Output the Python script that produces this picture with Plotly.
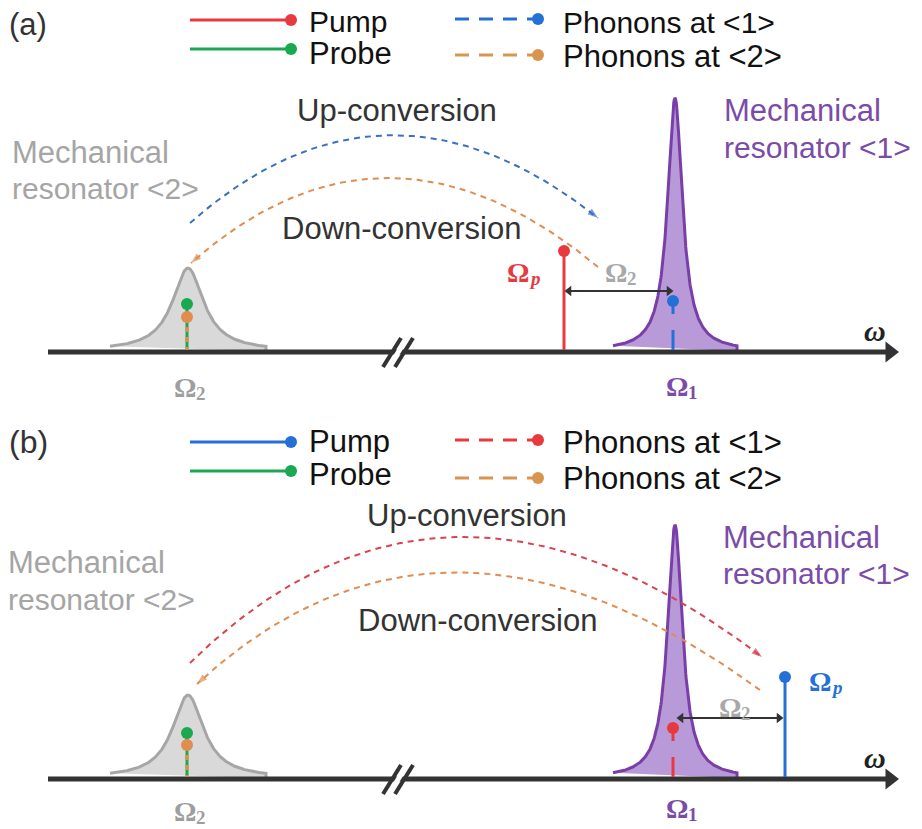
import numpy as np
import plotly.graph_objects as go

# ---- diagram values (pixel-like units, y grows downward) ----
# index 0 -> panel (a), index 1 -> panel (b)
panel_tags = ["(a)", "(b)"]
axis_y = [352, 779]
axis_x = [48, 898]

res2_x = [188, 188]          # mechanical resonator <2>
res2_peak = [268, 695]
res2_gamma = 19
res2_half = 78

res1_x = [675, 675]          # mechanical resonator <1>
res1_peak = [98, 525]
res1_gamma = 9
res1_half = 62

pump_x = [564, 785]
pump_top = [251, 677]
phonon1_x = [673, 673]
phonon1_top = [301, 728]
probe_top = [304, 733]
phonon2_dot = [317, 745]

sep_y = [291, 718]           # Omega_2 spacing arrow
sep_x0 = [565, 677]
sep_x1 = [673, 783]

# arcs: start, control, end
up_start = [(190, 223), (190, 663)]
up_ctrl = [(386, 50), (444, 414)]
up_end = [(598, 218), (762, 657)]
down_start = [(598, 267), (760, 690)]
down_ctrl = [(386, 91), (442, 458)]
down_end = [(191, 263), (197, 684)]

legend_solid_y = [[20, 49], [442, 471]]
legend_dash_y = [[19, 55], [440, 478]]
legend_text_y = [[21, 53, 22, 56], [441, 474, 442, 478]]
tag_y = [24, 442]

up_text = [(397, 110), (467, 515)]
down_text = [(402, 228), (478, 620)]
res1_text = [(723, 110, 147), (722, 537, 573)]
res2_text = [(11, 152, 188), (7, 562, 599)]

# centres of the Omega glyphs
omega2_low = [(185, 385), (185, 809)]
omega1_low = [(677, 384), (677, 806)]
omega_p_pos = [(518, 270), (820, 679)]
omega2_sep = [(616, 270), (730, 705)]

# ---- styles ----
RED = "#e8393f"
GREEN = "#1aa851"
BLUE = "#2470d6"
ORANGE = "#e08d4f"
TAN = "#d9954f"
PURPLE_EDGE = "#7a3ea8"
PURPLE_FILL = "#b99ad9"
PURPLE_TEXT = "#7b4ba8"
GRAY_EDGE = "#a6a6a6"
GRAY_FILL = "#d9d9d9"
GRAY_TEXT = "#a5a5a5"
AXIS = "#333333"
SANS = "Liberation Sans, Arial, sans-serif"
SERIF = "Liberation Serif, DejaVu Serif, serif"
FS = 31

pump_color = [RED, BLUE]
phonon1_color = [BLUE, RED]
up_arc_color = ["#3c6fc4", "#d9434f"]
down_arc_color = [ORANGE, ORANGE]

fig = go.Figure()
ann = []


def line(x, y, color, width, dash="solid"):
    fig.add_trace(go.Scatter(x=x, y=y, mode="lines", hoverinfo="skip",
                             line=dict(color=color, width=width, dash=dash)))


def dots(x, y, color, size=12, symbol="circle"):
    fig.add_trace(go.Scatter(x=x, y=y, mode="markers", hoverinfo="skip",
                             marker=dict(color=color, size=size, symbol=symbol,
                                         line=dict(width=0))))


def peak(cx, top, base, gamma, half, fill, edge):
    xs = np.linspace(cx - half, cx + half, 301)
    ys = base - (base - top) / (1 + ((xs - cx) / gamma) ** 2)
    fig.add_trace(go.Scatter(x=np.r_[xs, xs[::-1][:1]], y=np.r_[ys, base],
                             mode="lines", fill="toself", fillcolor=fill,
                             hoverinfo="skip", line=dict(color=edge, width=3)))


def arc(p0, c, p1, color):
    t = np.linspace(0, 1, 80)
    bx = (1 - t) ** 2 * p0[0] + 2 * (1 - t) * t * c[0] + t ** 2 * p1[0]
    by = (1 - t) ** 2 * p0[1] + 2 * (1 - t) * t * c[1] + t ** 2 * p1[1]
    line(bx, by, color, 2, dash="6px,5px")
    fig.add_trace(go.Scatter(x=bx[-3:], y=by[-3:], mode="markers", hoverinfo="skip",
                             marker=dict(symbol="arrow", size=[0, 0, 11], color=color,
                                         angleref="previous", line=dict(width=0))))


def text(x, y, s, size, color, font=SANS, xanchor="left", weight="normal", style="normal"):
    ann.append(dict(x=x, y=y, text=s, showarrow=False, xanchor=xanchor,
                    yanchor="middle", borderpad=0,
                    font=dict(family=font, size=size, color=color,
                              weight=weight, style=style)))


def omega(pos, sub, color, italic=False):
    x, y = pos
    text(x, y + 2, "Ω", 28, color, SERIF, "center", weight="bold")
    text(x + 10, y + 8, sub, 19, color, SERIF, "left", weight="bold",
         style="italic" if italic else "normal")


for i in range(2):
    ay = axis_y[i]
    top_fs = 30 if i == 0 else FS

    # resonator lineshapes
    peak(res2_x[i], res2_peak[i], ay - 1, res2_gamma, res2_half, GRAY_FILL, GRAY_EDGE)
    peak(res1_x[i], res1_peak[i], ay - 1, res1_gamma, res1_half, PURPLE_FILL, PURPLE_EDGE)

    # frequency axis with arrow and break mark
    line([axis_x[0], axis_x[1] - 12], [ay, ay], AXIS, 5)
    dots([axis_x[1] - 8], [ay], AXIS, size=18, symbol="triangle-right")
    line([389, 407], [ay + 15, ay - 14], "white", 5)
    line([383, 401], [ay + 15, ay - 14], AXIS, 4)
    line([395, 413], [ay + 15, ay - 14], AXIS, 4)

    # probe + phonons at <2> on resonator <2>
    line([res2_x[i] - 1] * 2, [probe_top[i], ay - 2], GREEN, 3)
    line([res2_x[i] - 1] * 2, [phonon2_dot[i], ay - 2], ORANGE, 3, dash="5px,5px")
    dots([res2_x[i] - 1], [phonon2_dot[i]], ORANGE, size=12)
    dots([res2_x[i] - 1], [probe_top[i]], GREEN, size=12)

    # phonons at <1>
    line([phonon1_x[i]] * 2, [phonon1_top[i], ay - 2], phonon1_color[i], 3,
         dash="13px,16px,20px,10px")
    dots([phonon1_x[i]], [phonon1_top[i]], phonon1_color[i], size=12)

    # pump
    line([pump_x[i]] * 2, [pump_top[i], ay - 2], pump_color[i], 3)
    dots([pump_x[i]], [pump_top[i]], pump_color[i], size=12)

    # Omega_2 separation arrow
    line([sep_x0[i] + 4, sep_x1[i] - 4], [sep_y[i]] * 2, AXIS, 2)
    dots([sep_x0[i] + 4], [sep_y[i]], AXIS, size=9, symbol="triangle-left")
    dots([sep_x1[i] - 4], [sep_y[i]], AXIS, size=9, symbol="triangle-right")

    # conversion arcs
    arc(up_start[i], up_ctrl[i], up_end[i], up_arc_color[i])
    arc(down_start[i], down_ctrl[i], down_end[i], down_arc_color[i])

    # legend
    ly = legend_solid_y[i]
    dy = legend_dash_y[i]
    ty = legend_text_y[i]
    line([190, 291], [ly[0]] * 2, pump_color[i], 3)
    dots([291], [ly[0]], pump_color[i], size=12)
    line([190, 291], [ly[1]] * 2, GREEN, 3)
    dots([291], [ly[1]], GREEN, size=12)
    line([455, 538], [dy[0]] * 2, phonon1_color[i], 3, dash="14px,10px")
    dots([538], [dy[0]], phonon1_color[i], size=12)
    line([455, 538], [dy[1]] * 2, TAN, 3, dash="14px,10px")
    dots([538], [dy[1]], TAN, size=12)
    text(308, ty[0], "Pump", top_fs, "#111111")
    text(308, ty[1], "Probe", FS, "#111111")
    text(562, ty[2], "Phonons at &lt;1&gt;", top_fs, "#111111")
    text(562, ty[3], "Phonons at &lt;2&gt;", FS, "#111111")

    # labels
    text(8, tag_y[i], panel_tags[i], 31 if i == 0 else 32, "#333333")
    text(up_text[i][0], up_text[i][1], "Up-conversion", FS, "#333333", xanchor="center")
    text(down_text[i][0], down_text[i][1], "Down-conversion", FS, "#333333", xanchor="center")
    text(res1_text[i][0], res1_text[i][1], "Mechanical", FS, PURPLE_TEXT)
    text(res1_text[i][0], res1_text[i][2], "resonator &lt;1&gt;", 30, PURPLE_TEXT)
    text(res2_text[i][0], res2_text[i][1], "Mechanical", FS, GRAY_TEXT)
    text(res2_text[i][0], res2_text[i][2], "resonator &lt;2&gt;", 30, GRAY_TEXT)

    omega(omega2_low[i], "2", "#9e9e9e")
    omega(omega1_low[i], "1", PURPLE_TEXT)
    omega(omega_p_pos[i], "p", pump_color[i], italic=True)
    omega(omega2_sep[i], "2", "#a8a8a8")
    text(875, ay - 22, "ω", 30, "#222222", SERIF, "center", weight="bold", style="italic")

fig.update_layout(
    width=922,
    height=829,
    margin=dict(l=0, r=0, t=0, b=0),
    paper_bgcolor="white",
    plot_bgcolor="white",
    showlegend=False,
    annotations=ann,
    xaxis=dict(range=[0, 922], visible=False, fixedrange=True),
    yaxis=dict(range=[829, 0], visible=False, fixedrange=True),
)

# drop the default 8 px page margin so the figure sits at the window corner
fig.write_html("out.html", config={"displayModeBar": False},
               post_script="document.body.style.margin = '0';")
